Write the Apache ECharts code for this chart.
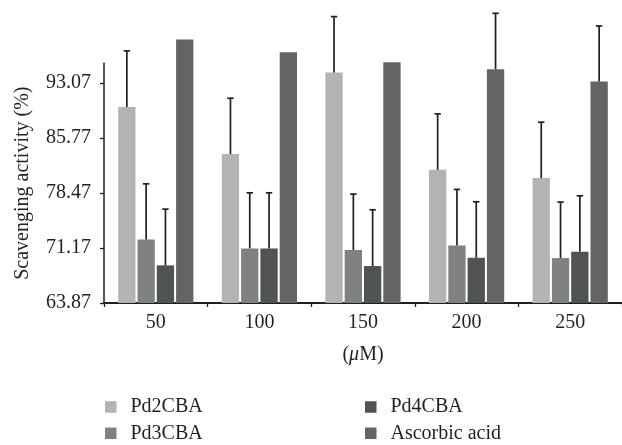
<!DOCTYPE html>
<html>
<head>
<meta charset="utf-8">
<script src="https://cdn.jsdelivr.net/npm/echarts@6/dist/echarts.min.js"></script>
<style>
  html, body { margin: 0; padding: 0; background: #ffffff; }
  #chart { width: 622px; height: 445px; }
</style>
</head>
<body>
<div id="chart"></div>
<script>
// ---- data ----
const categories = ['50', '100', '150', '200', '250'];
const seriesNames = ['Pd2CBA', 'Pd3CBA', 'Pd4CBA', 'Ascorbic acid'];
const pd2 = [89.87, 83.61, 94.42, 81.53, 80.43];
const pd2Err = [7.42, 7.41, 7.42, 7.41, 7.41];
const pd3 = [72.30, 71.11, 70.89, 71.51, 69.83];
const pd3Err = [7.37, 7.37, 7.42, 7.42, 7.42];
const pd4 = [68.86, 71.11, 68.77, 69.87, 70.67];
const pd4Err = [7.46, 7.37, 7.46, 7.42, 7.41];
const asc = [98.82, 97.12, 95.79, 94.86, 93.23];
const ascErr = [null, null, null, 7.42, 7.37];
const yTicks = [63.87, 71.17, 78.47, 85.77, 93.07];
const yMin = 63.87;
const yAxisMax = 95.65;   // top of the drawn y axis line
const yPlotMax = 103.38;  // top of the (taller) plotting area, same scale

// ---- styling ----
const FONT = "'Liberation Serif', 'DejaVu Serif', serif";
const INK = '#231f20';
const colors = ['#b3b3b3', '#808281', '#4f5351', '#646464'];
const BAR_W = 17.3;
const BAR_GAP_PX = 2;
const TXT = { fontFamily: FONT, fontSize: 20, color: INK };

const values = [pd2, pd3, pd4, asc];
const errs = [pd2Err, pd3Err, pd4Err, ascErr];

const barSeries = seriesNames.map((name, k) => ({
  type: 'bar',
  name: name,
  xAxisIndex: 0,
  yAxisIndex: 0,
  data: values[k],
  barWidth: BAR_W,
  barGap: (BAR_GAP_PX / BAR_W * 100) + '%',
  itemStyle: { color: colors[k] },
  z: 2
}));

const errSeries = seriesNames.map((name, k) => ({
  type: 'custom',
  name: 'err' + k,
  xAxisIndex: 0,
  yAxisIndex: 0,
  silent: true,
  z: 3,
  encode: { x: 0, y: 1 },
  data: values[k].map((v, i) => [i, v, errs[k][i] == null ? 0 : errs[k][i]]),
  renderItem: function (params, api) {
    const e = api.value(2);
    if (!(e > 0)) return null;
    const cat = api.value(0);
    const v = api.value(1);
    const p0 = api.coord([cat, v]);
    const p1 = api.coord([cat, v + e]);
    const x = p0[0] + (k - 1.5) * (BAR_W + BAR_GAP_PX);
    const st = { stroke: INK, lineWidth: 1.7 };
    return {
      type: 'group',
      children: [
        { type: 'line', shape: { x1: x, y1: p0[1], x2: x, y2: p1[1] }, style: st },
        { type: 'line', shape: { x1: x - 3.2, y1: p1[1], x2: x + 3.2, y2: p1[1] }, style: st }
      ]
    };
  }
}));

const legendBase = {
  orient: 'vertical',
  top: 397,
  padding: 0,
  icon: 'rect',
  itemWidth: 11.5,
  itemHeight: 11.5,
  itemGap: 6.3,
  selectedMode: false,
  textStyle: Object.assign({}, TXT, { lineHeight: 20, padding: [0, 0, 0, 9] })
};

const gridPos = { left: 104, right: -7, bottom: 142, containLabel: false };

const option = {
  animation: false,
  backgroundColor: '#ffffff',
  color: colors,
  grid: [
    Object.assign({ top: 5 }, gridPos),
    Object.assign({ top: 63.3 }, gridPos)
  ],
  legend: [
    Object.assign({}, legendBase, { left: 105, data: [seriesNames[0], seriesNames[1]] }),
    Object.assign({}, legendBase, { left: 365, data: [seriesNames[2], seriesNames[3]] })
  ],
  xAxis: [
    { type: 'category', gridIndex: 0, data: categories, boundaryGap: true, show: false },
    {
      type: 'category',
      gridIndex: 1,
      data: categories,
      boundaryGap: true,
      name: '({i|μ}M)',
      nameLocation: 'middle',
      nameGap: 42,
      nameTextStyle: Object.assign({}, TXT, {
        rich: { i: Object.assign({}, TXT, { fontStyle: 'italic' }) }
      }),
      axisLine: { show: true, lineStyle: { color: INK, width: 2 } },
      axisTick: { show: true, length: 4, alignWithLabel: false, lineStyle: { color: INK, width: 1.3 } },
      axisLabel: Object.assign({}, TXT, { margin: 10 }),
      splitLine: { show: false }
    }
  ],
  yAxis: [
    { type: 'value', gridIndex: 0, min: yMin, max: yPlotMax, show: false, splitLine: { show: false } },
    {
      type: 'value',
      gridIndex: 1,
      min: yMin,
      max: yAxisMax,
      name: 'Scavenging activity (%)',
      nameLocation: 'middle',
      nameGap: 71,
      nameTextStyle: TXT,
      axisLine: { show: true, lineStyle: { color: INK, width: 1.5 } },
      axisTick: { show: true, length: 4, customValues: yTicks, lineStyle: { color: INK, width: 1.3 } },
      axisLabel: Object.assign({}, TXT, {
        margin: 13,
        customValues: yTicks,
        formatter: v => Number(v).toFixed(2)
      }),
      splitLine: { show: false }
    }
  ],
  series: barSeries.concat(errSeries)
};

const chart = echarts.init(document.getElementById('chart'), null, { renderer: 'canvas' });
chart.setOption(option);
</script>
</body>
</html>
